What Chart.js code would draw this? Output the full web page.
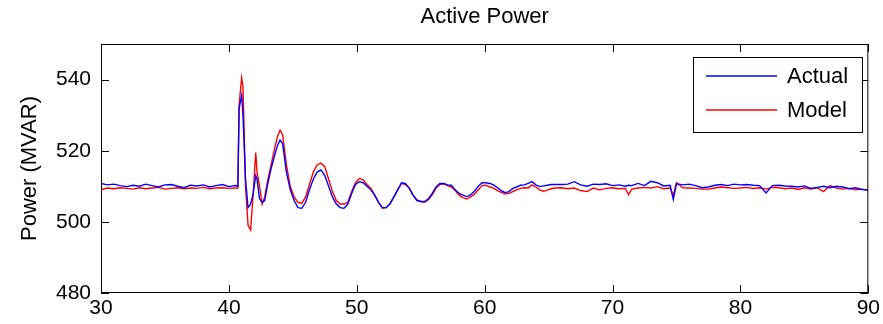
<!DOCTYPE html>
<html>
<head>
<meta charset="utf-8">
<script src="https://cdn.jsdelivr.net/npm/chart.js@4"></script>
<style>
  html, body { margin: 0; padding: 0; background: #fff; }
  canvas { display: block; }
</style>
</head>
<body>
<canvas id="chart" width="883" height="324"></canvas>
<script>
// Datos
const chartTitle = 'Active Power';
const yTitle = 'Power (MVAR)';
const xTicks = [30, 40, 50, 60, 70, 80, 90];
const yTicks = [480, 500, 520, 540];

const time = [
    30, 30.5, 31, 31.5, 32, 32.5, 33, 33.5, 34, 34.5, 35, 35.5, 36, 36.5, 37, 37.5, 38, 38.5, 39, 39.5, 40, 40.5,
    40.7, 40.8, 41.0, 41.1, 41.2, 41.3, 41.5, 41.7, 41.9, 42.1, 42.2, 42.4, 42.6, 42.8, 43.0, 43.3, 43.6, 43.8,
    44.0, 44.2, 44.5, 44.8, 45.1, 45.4, 45.7, 46.0, 46.3, 46.6, 46.9, 47.2, 47.5, 47.8, 48.1, 48.4, 48.7, 49.0,
    49.3, 49.6, 49.9, 50.2, 50.5, 50.8, 51.1, 51.4, 51.7, 52.0, 52.3, 52.6, 52.9, 53.2, 53.5, 53.8, 54.1, 54.4,
    54.7, 55.0, 55.3, 55.6, 55.9, 56.2, 56.5, 56.8, 57.1, 57.4, 57.7, 58.0, 58.3, 58.6, 58.9, 59.2, 59.5, 59.8,
    60.1, 60.4, 60.7, 61.0, 61.3, 61.6, 61.9, 62.2, 62.5, 62.8, 63.1, 63.4, 63.7, 64.0, 64.3, 64.6, 64.9, 65.2, 65.5,
    66, 66.5, 67, 67.5, 68, 68.5, 69, 69.5, 70, 70.5, 71, 71.25, 71.5, 72, 72.5, 73, 73.5, 74, 74.5, 74.75,
    75, 75.5, 76, 76.5, 77, 77.5, 78, 78.5, 79, 79.5, 80, 80.5, 81, 81.5, 82, 82.5, 83, 83.5, 84, 84.5,
    85, 85.5, 86, 86.5, 87, 87.5, 88, 88.5, 89, 89.5, 90
];

const actual = [
    510.8, 510.4, 510.6, 510.2, 509.9, 510.3, 510.0, 510.6, 510.2, 509.8, 510.4, 510.5, 510.0, 509.6, 510.3, 510.1, 510.4, 509.8, 510.2, 510.5, 509.9, 510.2,
    510.0, 532.0, 535.5, 530.0, 521.0, 512.0, 504.0, 505.0, 508.0, 513.0, 512.0, 506.5, 505.5, 506.0, 510.0, 515.0, 519.0, 521.5,
    523.0, 522.0, 514.0, 509.0, 506.0, 504.0, 503.8, 505.5, 509.0, 512.0, 514.0, 514.6, 513.0, 510.0, 507.0, 505.0, 504.0, 503.8,
    505.0, 508.0, 510.5, 511.3, 511.0, 510.0, 509.0, 507.5, 505.5, 504.0, 504.0, 505.0, 507.0, 509.0, 511.0, 510.8, 509.5, 507.5,
    506.0, 505.8, 505.7, 506.5, 508.0, 509.8, 510.8, 510.8, 510.4, 510.3, 509.0, 508.0, 507.5, 507.1, 507.6, 508.6, 510.0, 511.0,
    511.0, 510.8, 510.4, 509.6, 508.8, 508.2, 508.5, 509.4, 509.8, 510.3, 510.4, 510.8, 511.3, 510.4, 509.9, 510.1, 510.3, 510.5, 510.5,
    510.5, 510.6, 511.3, 510.4, 510.0, 510.6, 510.5, 510.7, 510.2, 510.4, 510.0, 510.3, 510.2, 510.8, 510.2, 511.4, 511.0, 510.1, 510.3, 506.3,
    510.7, 510.4, 510.6, 510.2, 509.6, 509.8, 510.3, 510.5, 510.2, 510.6, 510.4, 510.5, 510.3, 510.2, 508.1, 510.2, 510.3, 510.1, 510.0, 509.8,
    510.1, 509.4, 509.7, 510.0, 509.6, 510.0, 509.8, 509.3, 509.6, 509.1, 509.0
];

const model = [
    509.0, 509.5, 509.3, 509.6, 509.4, 509.2, 509.6, 509.3, 509.5, 509.7, 509.2, 509.4, 509.6, 509.3, 509.5, 509.4, 509.7, 509.3, 509.5, 509.6, 509.4, 509.5,
    509.5, 533.0, 540.5, 538.0, 525.0, 510.0, 499.0, 497.7, 508.0, 519.5, 514.0, 510.0, 505.0, 507.0, 511.0, 516.0, 521.0, 524.0,
    525.8, 524.5, 516.0, 510.0, 507.0, 505.5, 505.2, 507.0, 510.5, 514.0, 516.0, 516.5, 515.5, 512.0, 508.5, 506.0, 505.0, 505.0,
    505.5, 508.5, 511.0, 512.2, 511.8, 510.5, 509.5, 507.5, 505.5, 503.8, 504.0, 505.2, 507.0, 509.0, 510.8, 510.5, 509.5, 507.5,
    506.2, 505.6, 505.5, 506.2, 507.6, 509.5, 510.5, 510.7, 510.2, 509.8, 508.8, 507.5, 506.8, 506.4, 507.0, 507.8, 509.0, 510.2,
    510.3, 509.8, 509.5, 508.8, 508.3, 507.8, 508.0, 508.5, 509.0, 509.4, 509.6, 509.5, 510.4, 509.8, 509.0, 508.6, 508.9, 509.3, 509.5,
    509.6, 509.3, 509.5, 508.8, 508.5, 509.5, 509.0, 509.4, 509.6, 509.3, 509.4, 507.6, 509.2, 509.5, 509.7, 509.5, 509.9, 509.3, 509.5, 507.5,
    511.0, 509.6, 509.5, 509.4, 509.2, 509.2, 509.5, 509.8, 509.6, 509.4, 509.5, 509.7, 509.4, 509.6, 509.2, 509.7, 509.6, 509.3, 509.5, 509.1,
    509.6, 509.2, 509.6, 508.5, 510.2, 509.5, 509.2, 509.4, 509.0, 509.2, 508.8
];

const FONT = "'Liberation Sans', Arial, sans-serif";

// Marco y marcas hacia dentro (estilo MATLAB)
const framePlugin = {
    id: 'frame',
    afterDraw(chart) {
        const { ctx, chartArea: a, scales } = chart;
        const len = 8;
        ctx.save();
        ctx.strokeStyle = '#000';
        ctx.lineWidth = 1;
        ctx.beginPath();
        ctx.rect(a.left + 0.5, a.top + 0.5, a.right - a.left - 1, a.bottom - a.top - 1);
        xTicks.forEach(v => {
            const x = Math.round(scales.x.getPixelForValue(v)) + 0.5;
            ctx.moveTo(x, a.bottom); ctx.lineTo(x, a.bottom - len);
            ctx.moveTo(x, a.top); ctx.lineTo(x, a.top + len);
        });
        yTicks.forEach(v => {
            const y = Math.round(scales.y.getPixelForValue(v)) + 0.5;
            ctx.moveTo(a.left, y); ctx.lineTo(a.left + len, y);
            ctx.moveTo(a.right, y); ctx.lineTo(a.right - len, y);
        });
        ctx.stroke();

        // Leyenda
        const bx = 693, by = 57, bw = 169, bh = 75;
        ctx.fillStyle = '#fff';
        ctx.fillRect(bx, by, bw, bh);
        ctx.strokeRect(bx + 0.5, by + 0.5, bw, bh);
        ctx.font = '22px ' + FONT;
        ctx.textBaseline = 'middle';
        chart.data.datasets.forEach((ds, i) => {
            const y = by + 19 + i * 34;
            ctx.strokeStyle = ds.borderColor;
            ctx.lineWidth = 1.5;
            ctx.beginPath();
            ctx.moveTo(bx + 13, y); ctx.lineTo(bx + 84, y);
            ctx.stroke();
            ctx.fillStyle = '#000';
            ctx.fillText(ds.label, bx + 94, y + 1);
        });
        ctx.restore();
    }
};

new Chart(document.getElementById('chart'), {
    type: 'line',
    data: {
        datasets: [
            {
                label: 'Actual',
                data: time.map((t, i) => ({ x: t, y: actual[i] })),
                borderColor: '#0000ff',
                borderWidth: 1.4,
                pointRadius: 0,
                tension: 0
            },
            {
                label: 'Model',
                data: time.map((t, i) => ({ x: t, y: model[i] })),
                borderColor: '#ff0000',
                borderWidth: 1.4,
                pointRadius: 0,
                tension: 0
            }
        ]
    },
    options: {
        responsive: false,
        animation: false,
        devicePixelRatio: 1,
        layout: { padding: { left: 0, right: 14, top: 0, bottom: 0 } },
        plugins: {
            legend: { display: false },
            tooltip: { enabled: false },
            title: {
                display: true,
                text: chartTitle,
                fullSize: false,
                color: '#000',
                font: { family: FONT, size: 22, weight: 'normal' },
                padding: { top: 4, bottom: 13.6 }
            }
        },
        scales: {
            x: {
                type: 'linear',
                min: 30,
                max: 90,
                afterBuildTicks: s => { s.ticks = xTicks.map(v => ({ value: v })); },
                afterFit: s => { s.height = 31; },
                grid: { display: false, drawTicks: false },
                border: { display: false },
                ticks: { color: '#000', padding: 3, font: { family: FONT, size: 21 } }
            },
            y: {
                type: 'linear',
                min: 480,
                max: 550,
                afterBuildTicks: s => { s.ticks = yTicks.map(v => ({ value: v })); },
                afterFit: s => { s.width = 101; },
                grid: { display: false, drawTicks: false },
                border: { display: false },
                ticks: { color: '#000', padding: 10, font: { family: FONT, size: 21 } },
                title: {
                    display: true,
                    text: yTitle,
                    color: '#000',
                    font: { family: FONT, size: 22 },
                    padding: { top: 17, bottom: 0 }
                }
            }
        }
    },
    plugins: [framePlugin]
});
</script>
</body>
</html>
